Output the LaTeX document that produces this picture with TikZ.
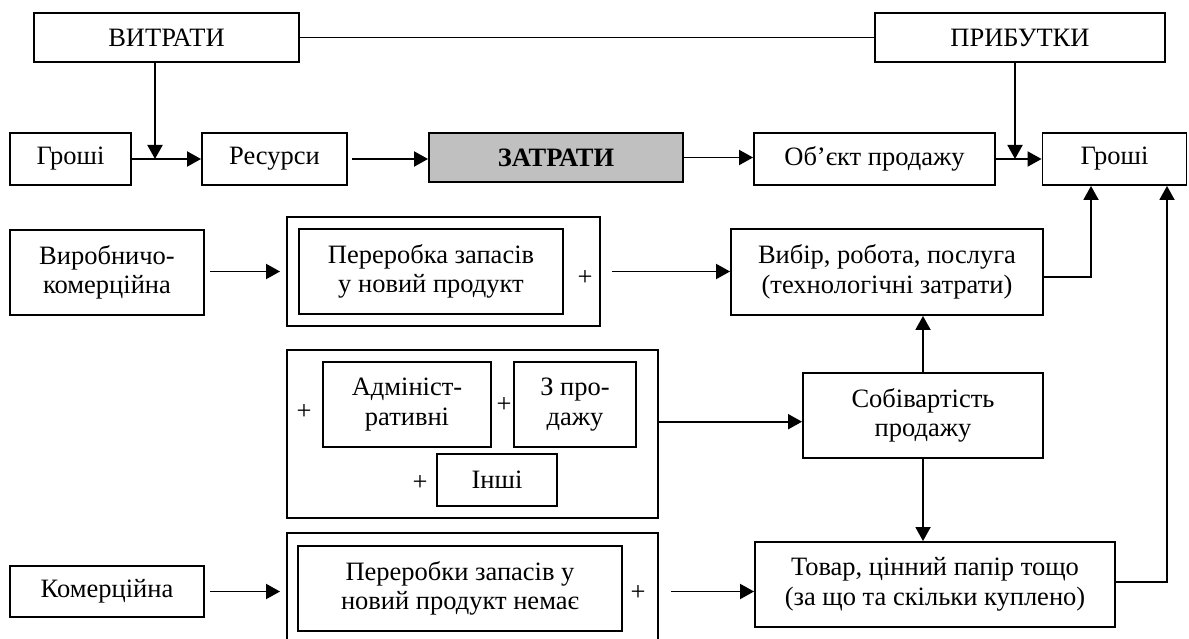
\documentclass[tikz,border=0pt]{standalone}
\usepackage{fontspec}
\setmainfont{Liberation Serif}
\usetikzlibrary{arrows.meta}
\definecolor{zgrey}{RGB}{192,192,192}
\begin{document}
\begin{tikzpicture}[x=1pt,y=-1pt,
  box/.style={draw, line width=1.9pt, rectangle, inner sep=0pt, align=center, font=\fontsize{26.5}{29.5}\selectfont},
  plusmark/.style={inner sep=0pt, font=\fontsize{26.5}{29.5}\selectfont},
  arr/.style={line width=1.9pt, -{Triangle[length=14pt,width=15pt]}},
  ln/.style={line width=1.9pt}]
\useasboundingbox (0,0) rectangle (1189,639);
% top row
\node[box, minimum width=265pt, minimum height=49pt] (vyt) at (166.5,37.5) {ВИТРАТИ};
\node[box, minimum width=290pt, minimum height=49pt] (prib) at (1020,37.5) {ПРИБУТКИ};
% second row
\node[box, minimum width=121pt, minimum height=52pt] (groshiL) at (70.5,159) {Гроші};
\node[box, minimum width=145pt, minimum height=52pt] (res) at (274.5,159) {Ресурси};
\node[box, fill=zgrey, minimum width=254pt, minimum height=49pt, font=\fontsize{26.5}{29.5}\selectfont\bfseries] (zatr) at (556,157.5) {ЗАТРАТИ};
\node[box, minimum width=241pt, minimum height=52pt] (obj) at (874.5,159) {Об’єкт продажу};
\node[box, minimum width=144pt, minimum height=52pt] (groshiR) at (1114.5,159) {Гроші};
% third row
\node[box, minimum width=194pt, minimum height=85pt] (vyr) at (107,272.5) {Виробничо-\\комерційна};
\node[box, minimum width=313pt, minimum height=109pt] (outer1) at (443.5,271.5) {};
\node[box, minimum width=264pt, minimum height=85pt] (inner1) at (431,271.5) {Переробка запасів\\у новий продукт};
\node[plusmark] (plus1) at (585,278) {+};
\node[box, minimum width=312pt, minimum height=86pt] (vybir) at (887,272) {Вибір, робота, послуга\\(технологічні затрати)};
% fourth group
\node[box, minimum width=371pt, minimum height=168pt] (outer2) at (472.5,434) {};
\node[box, minimum width=168pt, minimum height=85pt] (adm) at (407,404.5) {Адмініст-\\ративні};
\node[box, minimum width=122pt, minimum height=85pt] (zpro) at (575,404.5) {З про-\\дажу};
\node[box, minimum width=120pt, minimum height=52pt] (inshi) at (497,480) {Інші};
\node[plusmark] (plusA) at (304,412) {+};
\node[plusmark] (plusB) at (504,405) {+};
\node[plusmark] (plusC) at (420,483) {+};
\node[box, minimum width=240pt, minimum height=85pt] (sobiv) at (923,415.5) {Собівартість\\продажу};
% bottom row
\node[box, minimum width=371pt, minimum height=107pt] (outer3) at (472.5,586.5) {};
\node[box, minimum width=324pt, minimum height=85pt] (inner3) at (460,588.5) {Переробки запасів у\\новий продукт немає};
\node[plusmark] (plus3) at (638,593) {+};
\node[box, minimum width=194pt, minimum height=51pt] (kom) at (107,591.5) {Комерційна};
\node[box, minimum width=360pt, minimum height=85pt] (tovar) at (935,584.5) {Товар, цінний папір тощо\\(за що та скільки куплено)};
% helper coordinates
\coordinate (j1) at (155,159);
\coordinate (j2) at (1015,159);
\coordinate (c1) at (1091,277);
\coordinate (c2) at (1167,582);
\coordinate (c3) at (700,421.7);
\coordinate (c4) at (700,591.5);
% connectors
\draw[ln] (vyt.east) -- (prib.west);
\draw[arr] (groshiL.east) -- (res.west);
\draw[arr] (vyt.south -| j1) -- (j1);
\draw[arr, shorten <=4pt] (res.east) -- (zatr.west |- res.east);
\draw[arr] (zatr.east) -- (obj.west |- zatr.east);
\draw[arr] (obj.east) -- (groshiR.west);
\draw[arr] (prib.south -| j2) -- (j2);
\draw[arr, shorten <=5pt, shorten >=6pt] (vyr.east |- outer1.east) -- (outer1.west);
\draw[arr, shorten <=11pt] (outer1.east) -- (vybir.west |- outer1.east);
\draw[arr] (vybir.east |- c1) -- (c1) -- (groshiR.south -| c1);
\draw[arr] (outer2.east |- c3) -- (sobiv.west |- c3);
\draw[arr] (sobiv.north) -- (vybir.south -| sobiv.north);
\draw[arr] (sobiv.south) -- (tovar.north -| sobiv.south);
\draw[arr, shorten <=5pt, shorten >=6pt] (kom.east) -- (outer3.west |- kom.east);
\draw[arr, shorten <=12pt] (outer3.east |- c4) -- (tovar.west |- c4);
\draw[arr] (tovar.east |- c2) -- (c2) -- (groshiR.south -| c2);
\end{tikzpicture}
\end{document}
